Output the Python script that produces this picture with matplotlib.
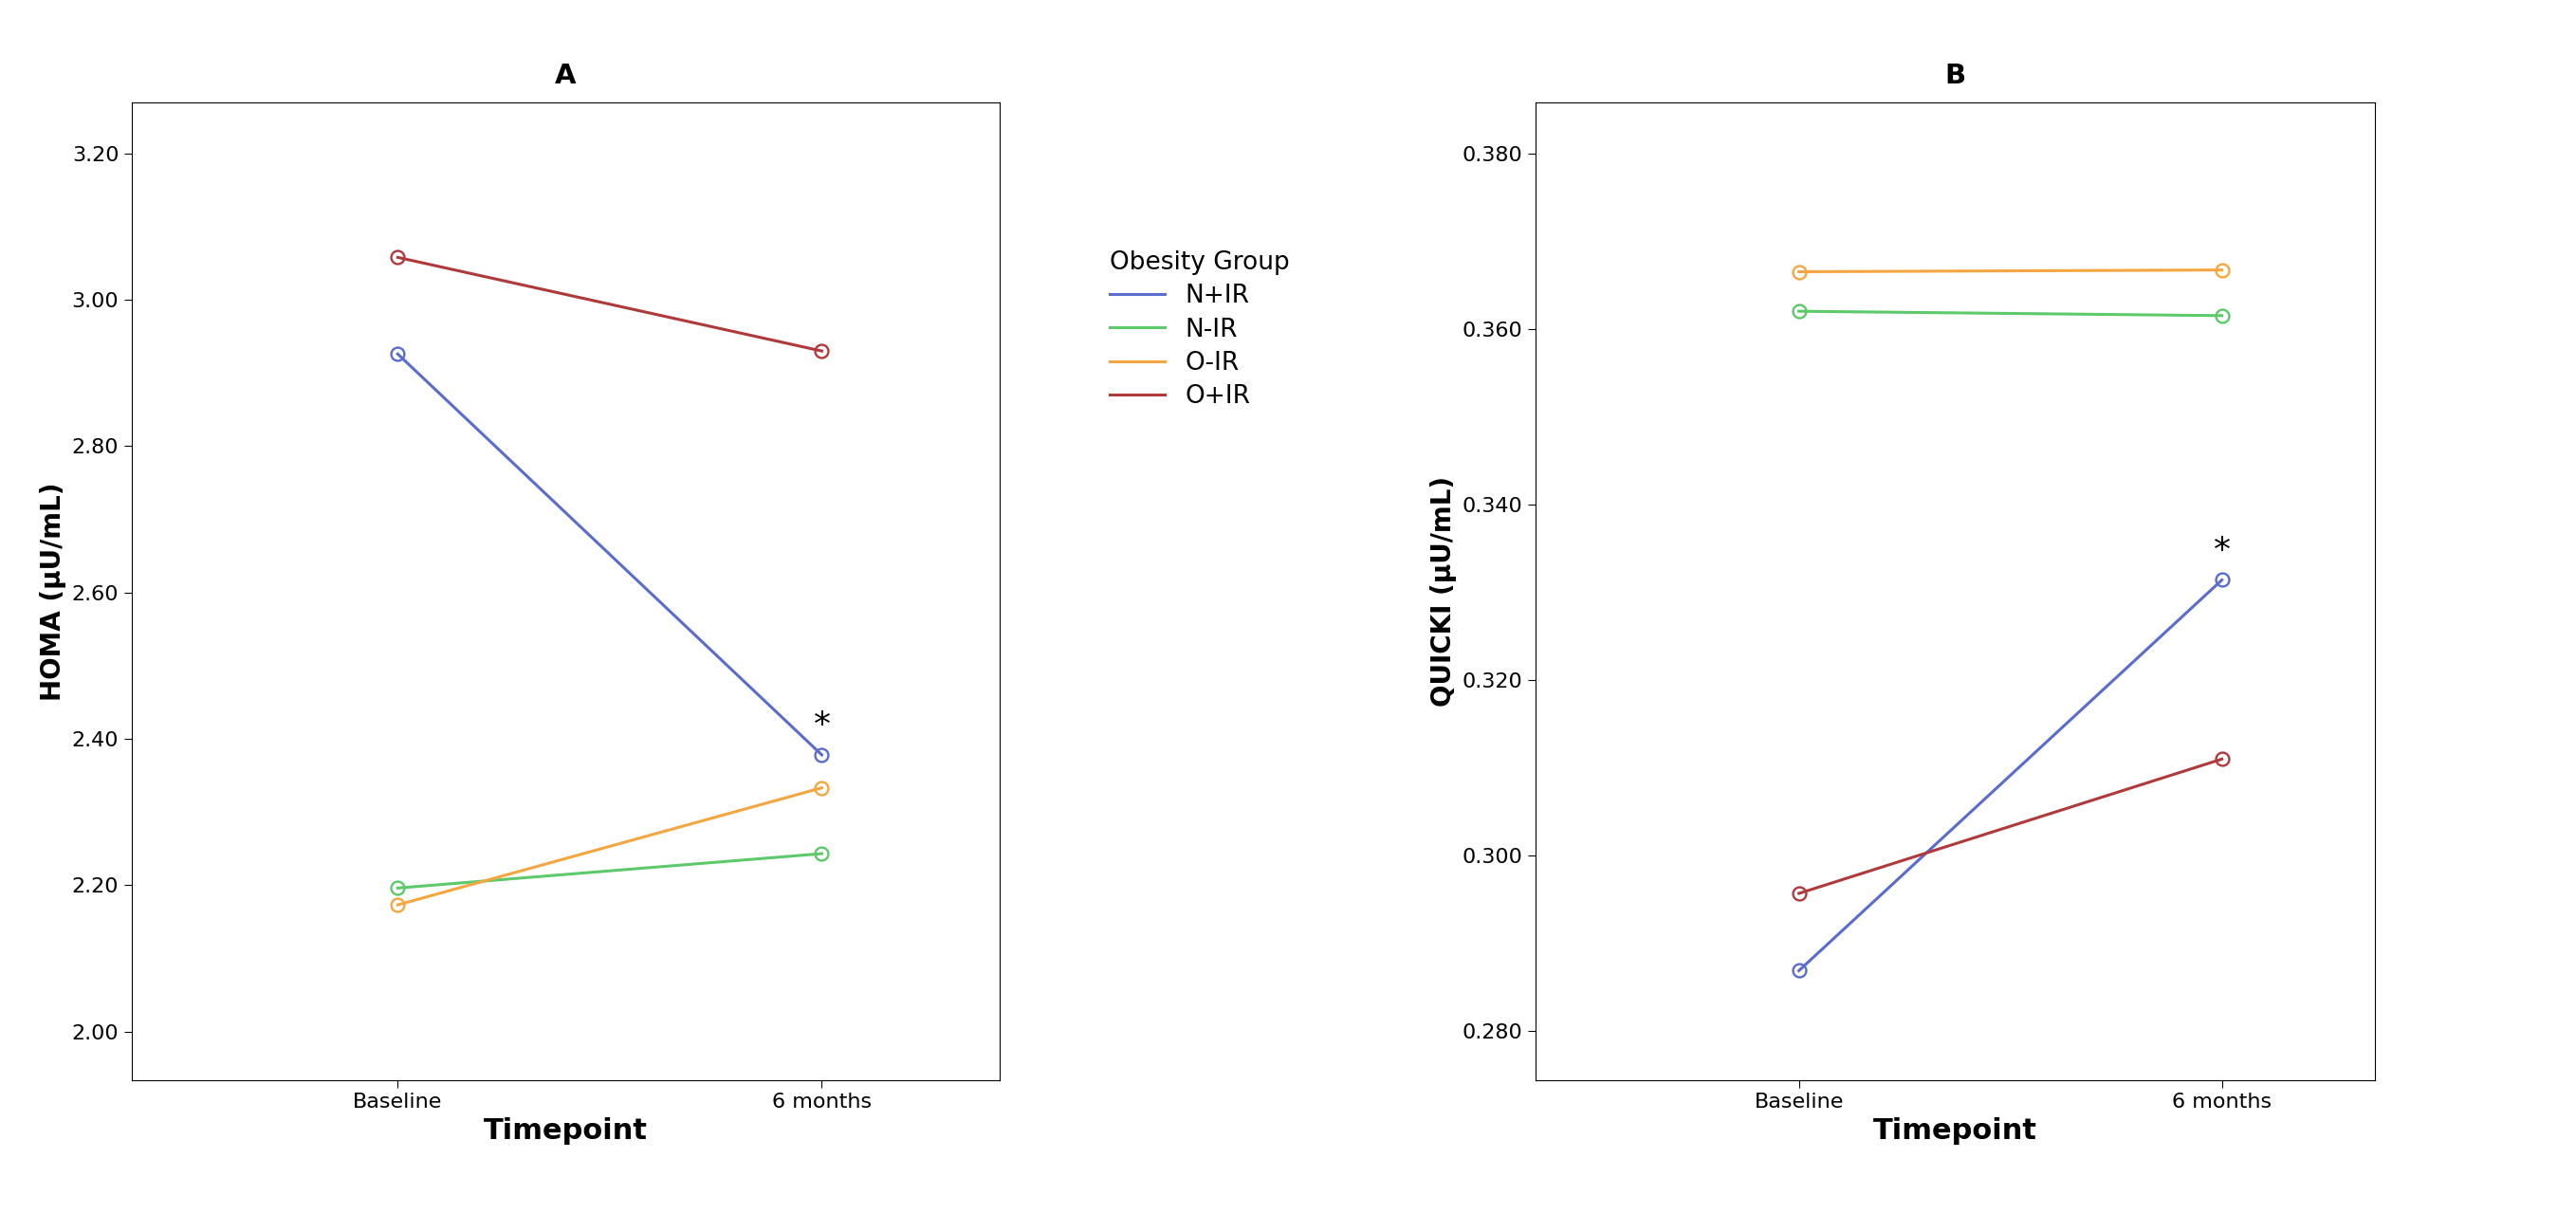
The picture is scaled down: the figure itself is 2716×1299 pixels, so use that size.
import matplotlib
matplotlib.use('Agg')
import matplotlib.pyplot as plt

timepoints = ['Baseline', '6 months']
groups = ['N+IR', 'N-IR', 'O-IR', 'O+IR']
colors = ['#5a6ccc', '#5cc96a', '#f5a640', '#b0393b']

homa = {
    'N+IR': [2.926, 2.378],
    'N-IR': [2.196, 2.243],
    'O-IR': [2.173, 2.333],
    'O+IR': [3.058, 2.930],
}
quicki = {
    'N+IR': [0.2869, 0.3314],
    'N-IR': [0.3620, 0.3615],
    'O-IR': [0.3665, 0.3667],
    'O+IR': [0.2957, 0.3110],
}
homa_ticks = [2.00, 2.20, 2.40, 2.60, 2.80, 3.00, 3.20]
quicki_ticks = [0.280, 0.300, 0.320, 0.340, 0.360, 0.380]

fig = plt.figure(figsize=(27.16, 12.99), dpi=100)
axA = fig.add_axes([0.051, 0.123, 0.337, 0.794])
axB = fig.add_axes([0.596, 0.123, 0.326, 0.794])

x = [0, 1]
for ax, data, ticks, fmt, ylim, xlim, ylab, title in [
        (axA, homa, homa_ticks, '{:.2f}', (1.933, 3.270), (-0.628, 1.419), 'HOMA (µU/mL)', 'A'),
        (axB, quicki, quicki_ticks, '{:.3f}', (0.2744, 0.3858), (-0.623, 1.362), 'QUICKI (µU/mL)', 'B')]:
    for g, c in zip(groups, colors):
        ax.plot(x, data[g], color=c, lw=2.2, marker='o', ms=10,
                mfc='none', mew=1.7, label=g)
    ax.set_xlim(*xlim)
    ax.set_ylim(*ylim)
    ax.set_xticks(x)
    ax.set_xticklabels(timepoints, fontsize=16)
    ax.set_yticks(ticks)
    ax.set_yticklabels([fmt.format(t) for t in ticks], fontsize=16)
    ax.tick_params(length=6)
    ax.set_xlabel('Timepoint', fontsize=22, fontweight='bold')
    ax.set_ylabel(ylab, fontsize=20, fontweight='bold')
    ax.set_title(title, fontsize=21, fontweight='bold', pad=14)
    # significance mark above N+IR at 6 months
    ax.annotate('*', (1, data['N+IR'][1]), xytext=(0, 10), textcoords='offset points',
                ha='center', va='bottom', fontsize=26)

fig.legend([plt.Line2D([], [], color=c, lw=2.2) for c in colors], groups,
           loc='upper left', bbox_to_anchor=(0.422, 0.815), frameon=False,
           title='Obesity Group', fontsize=19, title_fontsize=19,
           handlelength=2.2, labelspacing=0.35, alignment='left')

fig.savefig('out.png', dpi=100, facecolor='white')
